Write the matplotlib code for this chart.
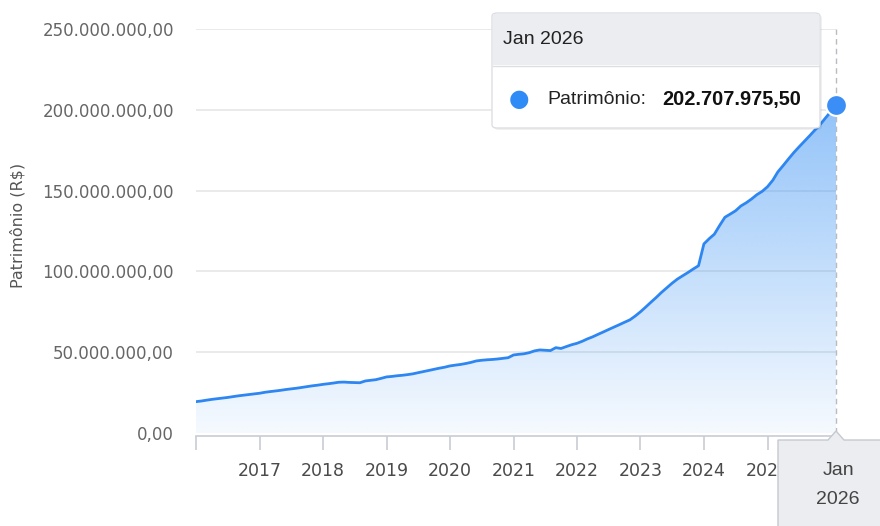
import numpy as np
import pandas as pd
import matplotlib
matplotlib.use("Agg")
import matplotlib.pyplot as plt
import matplotlib.dates as mdates
from matplotlib.ticker import FuncFormatter, FixedLocator
from matplotlib.patches import FancyBboxPatch, Rectangle, Polygon
from matplotlib.colors import to_rgb

# ---------------- data (R$ millions, monthly) ----------------
years = list(range(2016, 2026))
vals_2016 = [19.4, 19.8, 20.3, 20.8, 21.2, 21.6, 22.0, 22.5, 23.0, 23.4, 23.8, 24.2]
vals_2017 = [24.6, 25.2, 25.6, 26.0, 26.4, 26.9, 27.3, 27.7, 28.2, 28.7, 29.2, 29.6]
vals_2018 = [30.1, 30.5, 30.9, 31.4, 31.5, 31.3, 31.2, 31.1, 32.2, 32.6, 33.0, 33.8]
vals_2019 = [34.7, 35.0, 35.4, 35.7, 36.1, 36.6, 37.3, 38.0, 38.7, 39.4, 40.1, 40.7]
vals_2020 = [41.5, 42.0, 42.4, 43.0, 43.7, 44.6, 45.0, 45.3, 45.5, 45.8, 46.2, 46.6]
vals_2021 = [48.3, 48.7, 49.0, 49.7, 50.8, 51.4, 51.2, 51.0, 52.8, 52.3, 53.5, 54.6]
vals_2022 = [55.5, 56.8, 58.2, 59.5, 61.0, 62.5, 64.0, 65.5, 67.0, 68.5, 70.0, 72.3]
vals_2023 = [75.0, 78.0, 80.8, 83.8, 86.9, 89.8, 92.6, 95.2, 97.3, 99.3, 101.5, 103.5]
vals_2024 = [117.0, 120.3, 123.0, 128.5, 133.5, 135.5, 137.5, 140.5, 142.5, 144.8, 147.5, 149.5]
vals_2025 = [152.4, 156.5, 161.5, 165.5, 169.5, 173.5, 177.0, 180.5, 184.0, 187.5, 191.0, 195.0]
last_date = "2026-01-30"
last_value = 202707975.50

tick_years = [2016, 2017, 2018, 2019, 2020, 2021, 2022, 2023, 2024, 2025]
tick_labels = ["", "2017", "2018", "2019", "2020", "2021", "2022", "2023", "2024", "2025"]
y_ticks = [0, 50e6, 100e6, 150e6, 200e6, 250e6]
y_title = "Patrimônio (R$)"
tooltip_header = "Jan 2026"
tooltip_series = "Patrimônio:"
tooltip_value = "202.707.975,50"
crosshair_label = "Jan\n2026"

all_vals = (vals_2016 + vals_2017 + vals_2018 + vals_2019 + vals_2020 +
            vals_2021 + vals_2022 + vals_2023 + vals_2024 + vals_2025)
dates = list(pd.date_range("2016-01-01", periods=len(all_vals), freq="MS"))
dates.append(pd.Timestamp(last_date))
values = np.array([v * 1e6 for v in all_vals] + [last_value])
xnum = mdates.date2num(dates)

# ---------------- figure ----------------
W, H = 880, 526
fig = plt.figure(figsize=(W / 100, H / 100), dpi=100)
fig.patch.set_facecolor("white")

def fx(px):
    return px / W

def fy(py):
    return 1 - py / H

ax = fig.add_axes([fx(196), fy(436), fx(836) - fx(196), fy(29) - fy(436)])
ax.set_facecolor("white")

line_color = "#2d86f1"

ymin = -1.86e6

# gradient fill
n = 256
grad = np.linspace(1, 0, n).reshape(-1, 1)
rgba = np.zeros((n, 1, 4))
rgba[..., :3] = to_rgb("#3a92f4")
a_top, a_bot = 0.55, 0.05
rgba[..., 3] = a_bot + (a_top - a_bot) * grad
im = ax.imshow(rgba, extent=[xnum[0], xnum[-1], 0, values.max()], aspect="auto",
               origin="upper", zorder=1, interpolation="bilinear")
poly = ax.fill_between(xnum, values, 0, color="none", lw=0)
im.set_clip_path(poly.get_paths()[0], transform=ax.transData)
ax.set_xlim(xnum[0], xnum[-1])
ax.set_ylim(ymin, 250e6)

ax.plot(xnum, values, color=line_color, lw=2.0, zorder=3, solid_capstyle="round")

# grid
ax.set_yticks(y_ticks)
ax.yaxis.set_major_formatter(FuncFormatter(
    lambda v, p: f"{v:,.2f}".replace(",", "X").replace(".", ",").replace("X", ".")))
for yv in y_ticks[1:]:
    ax.axhline(yv, color="#e6e6e6", lw=1.2, zorder=0)
ax.tick_params(axis="y", length=0, pad=16, labelsize=12, labelcolor="#666666")

xt = [mdates.date2num(pd.Timestamp(f"{y}-01-01")) for y in tick_years]
ax.xaxis.set_major_locator(FixedLocator(xt))
ax.set_xticklabels(tick_labels)
ax.tick_params(axis="x", length=10, width=1.2, color="#c8ccd4", pad=8.5,
               labelsize=12.5, labelcolor="#4a4a4a")

for s in ["top", "right", "left"]:
    ax.spines[s].set_visible(False)
ax.spines["bottom"].set_color("#c8ccd4")
ax.spines["bottom"].set_linewidth(1.2)

fig.text(fx(18), fy(225), y_title, rotation=90, ha="center", va="center",
         fontsize=11.5, color="#555555")

# crosshair
ax.plot([xnum[-1], xnum[-1]], [0, 250e6], color="#b8bcc2", lw=1, ls=(0, (4, 3)),
        zorder=2, clip_on=False)
ax.plot([xnum[-1]], [values[-1]], "o", ms=15, mfc="#3a8ef6", mec="white", mew=1.5,
        zorder=5, clip_on=False)

# tooltip
shadow = FancyBboxPatch((fx(494), fy(130)), fx(820) - fx(492), fy(13) - fy(128),
                        boxstyle="round,pad=0,rounding_size=0.006",
                        transform=fig.transFigure, fc="#000000", alpha=0.06, ec="none",
                        zorder=9)
fig.add_artist(shadow)
tip = FancyBboxPatch((fx(492), fy(128)), fx(820) - fx(492), fy(13) - fy(128),
                     boxstyle="round,pad=0,rounding_size=0.006",
                     transform=fig.transFigure, fc="white", ec="#dcdfe3", lw=1,
                     zorder=10)
fig.add_artist(tip)
hdr = Rectangle((fx(493), fy(65)), fx(819) - fx(493), fy(14) - fy(65),
                transform=fig.transFigure, fc="#ebedf0", ec="none", zorder=11)
fig.add_artist(hdr)
fig.add_artist(plt.Line2D([fx(493), fx(819)], [fy(65.5), fy(65.5)],
                          transform=fig.transFigure, color="#dcdfe3", lw=1, zorder=12))
fig.text(fx(503), fy(40), tooltip_header, ha="left", va="center", fontsize=14,
         family="Liberation Sans", color="#222222", zorder=13)
fig.text(fx(519), fy(99), "●", ha="center", va="center", fontsize=17,
         family="DejaVu Sans", color="#2f8bf6", zorder=13)
fig.text(fx(547), fy(100), tooltip_series, ha="left", va="center", fontsize=14,
         family="Liberation Sans", color="#222222", zorder=13)
fig.text(fx(662), fy(100), tooltip_value, ha="left", va="center", fontsize=14.3,
         family="Liberation Sans", weight="bold", color="#111111", zorder=13)

# crosshair label box at bottom
box = Polygon([(fx(778), fy(530)), (fx(778), fy(440)), (fx(828), fy(440)),
               (fx(836), fy(431)), (fx(844), fy(440)), (fx(884), fy(440)),
               (fx(884), fy(530))],
              closed=True, transform=fig.transFigure, fc="#ebedf0", ec="#c5cad0",
              lw=1, zorder=10)
fig.add_artist(box)
fig.text(fx(838), fy(485), crosshair_label, ha="center", va="center", fontsize=14,
         family="Liberation Sans", color="#444444", linespacing=1.95, zorder=13)

fig.savefig("out.png", dpi=100, facecolor="white")
